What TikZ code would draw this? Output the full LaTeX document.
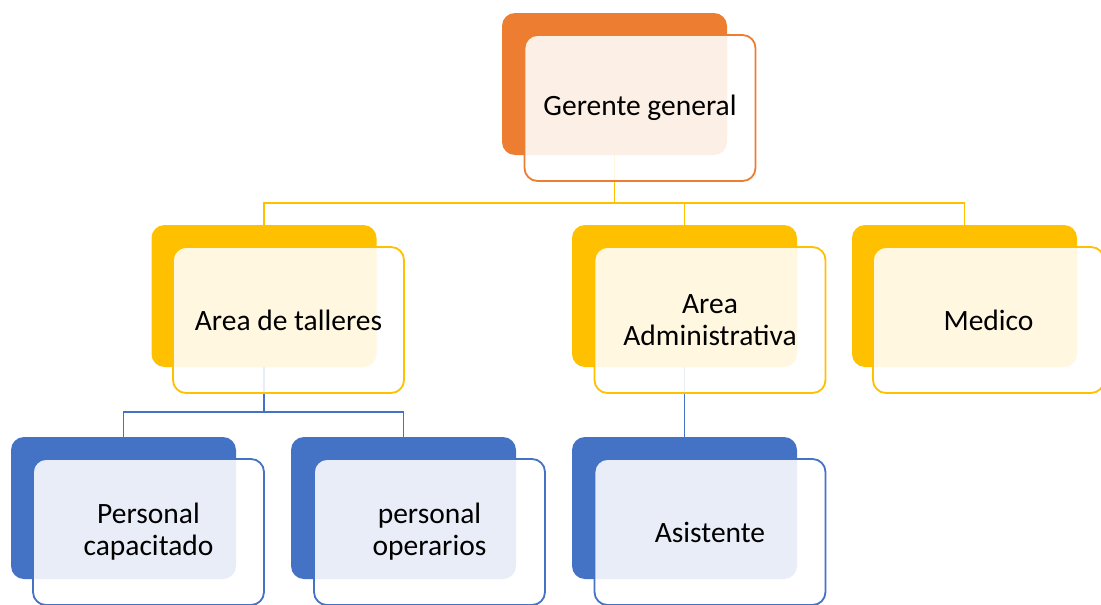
\documentclass[tikz,border=0pt]{standalone}
\usepackage{fontspec}
\setmainfont{Carlito}
\definecolor{orangeA}{HTML}{ED7D31}
\definecolor{goldA}{HTML}{FFC000}
\definecolor{blueA}{HTML}{4472C4}
\tikzset{
  backbox/.style={rounded corners=13pt, minimum width=225pt, minimum height=142pt, inner sep=0pt, fill=#1},
  frontbox/.style={rounded corners=13pt, minimum width=231pt, minimum height=146pt, inner sep=0pt, draw=#1, line width=1.8pt, fill=white, fill opacity=0.88, text opacity=1, align=center, font=\fontsize{29.5}{32}\selectfont},
  conn/.style={draw=#1, line width=1.8pt}
}
\begin{document}
\begin{tikzpicture}[x=1pt,y=-1pt]
\useasboundingbox (0,0) rectangle (1101,605);
% back boxes
\node[backbox=orangeA] (gB) at (614.5,84) {};
\node[backbox=goldA] (aB) at (264,296) {};
\node[backbox=goldA] (adB) at (684.5,296) {};
\node[backbox=goldA] (mB) at (964.5,296) {};
\node[backbox=blueA] (pcB) at (123.5,508) {};
\node[backbox=blueA] (poB) at (403.5,508) {};
\node[backbox=blueA] (asB) at (684.5,508) {};
% connectors
\draw[conn=goldA] (gB.south) -- ++(0,48) coordinate (j1);
\draw[conn=goldA] (j1) -| (aB.north);
\draw[conn=goldA] (j1) -| (adB.north);
\draw[conn=goldA] (j1) -| (mB.north);
\draw[conn=blueA] (aB.south) -- ++(0,45) coordinate (j2);
\draw[conn=blueA] (j2) -| (pcB.north);
\draw[conn=blueA] (j2) -| (poB.north);
\draw[conn=blueA] (adB.south) -- (asB.north);
% front boxes
\node[frontbox=orangeA] (g) at (640,108) {Gerente general};
\node[frontbox=goldA] (a) at (288.5,320) {Area de talleres};
\node[frontbox=goldA] (ad) at (710,320) {Area\\Administrativa};
\node[frontbox=goldA] (m) at (988.5,320) {Medico};
\node[frontbox=blueA] (pc) at (148.5,532) {Personal\\capacitado};
\node[frontbox=blueA] (po) at (429.5,532) {personal\\operarios};
\node[frontbox=blueA] (as) at (710,532) {Asistente};
\end{tikzpicture}
\end{document}
